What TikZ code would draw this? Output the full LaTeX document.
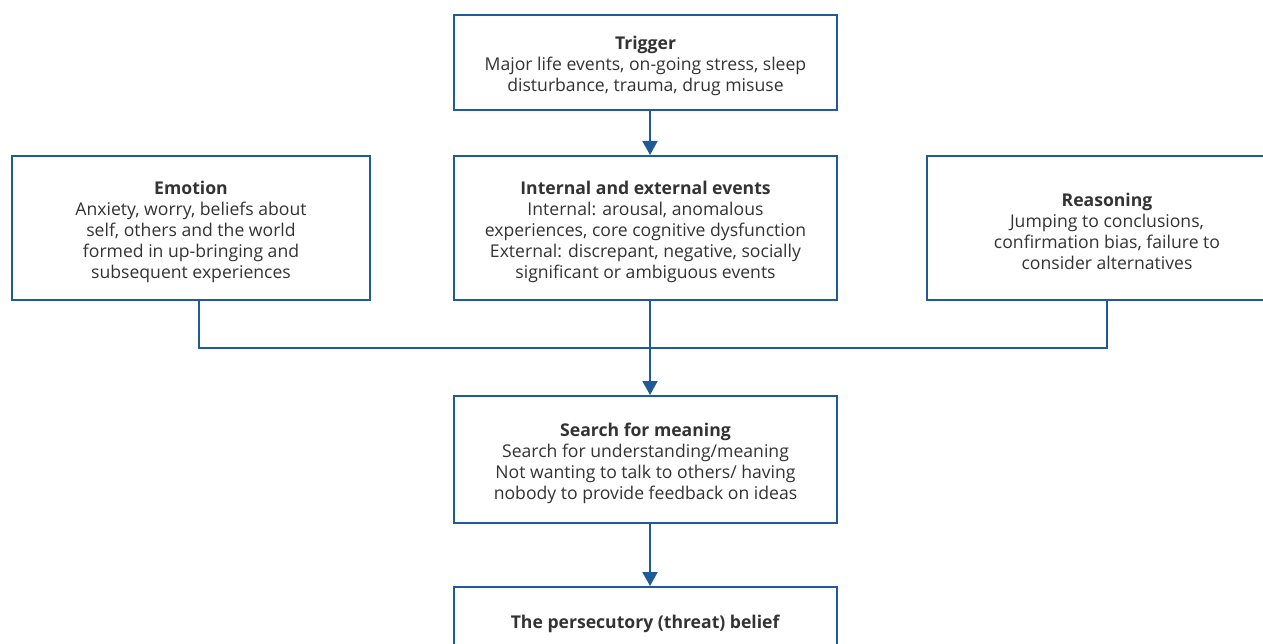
\documentclass[tikz,border=0pt]{standalone}
\usepackage{fontspec}
\setmainfont{Open Sans}
\usetikzlibrary{arrows.meta}
\definecolor{boxblue}{HTML}{1E5B98}
\definecolor{txt}{HTML}{333333}
\newcommand{\bxstrut}{\rule{0pt}{21pt}}
\begin{document}
\begin{tikzpicture}[x=1pt,y=-1pt,
  box/.style={draw=boxblue, line width=2pt, fill=white, inner sep=0pt, align=center,
    font=\fontsize{17.6}{21}\selectfont, text=txt},
  conn/.style={draw=boxblue, line width=2pt},
  arr/.style={conn, -{Triangle[width=15pt,length=14pt]}}]
\useasboundingbox (0,0) rectangle (1263,644);
\clip (0,0) rectangle (1263,644);
\fill[white] (0,0) rectangle (1263,644);
\coordinate (cx) at (650,0);
\coordinate (ex) at (199,0);
\coordinate (j) at (650,348);
\node[box, minimum width=383pt, minimum height=95pt] (trig) at (645.5,62.5)
  {\bxstrut\textbf{Trigger}\\Major life events, on-going stress, sleep\\disturbance, trauma, drug misuse};
\node[box, minimum width=358pt, minimum height=144pt] (emo) at (191,228)
  {\bxstrut\textbf{Emotion}\\Anxiety, worry, beliefs about\\self, others and the world\\formed in up-bringing and\\subsequent experiences};
\node[box, minimum width=383pt, minimum height=144pt] (int) at (645.5,228)
  {\bxstrut\textbf{Internal and external events}\\Internal: arousal, anomalous\\experiences, core cognitive dysfunction\\External: discrepant, negative, socially\\significant or ambiguous events};
\node[box, minimum width=360pt, minimum height=144pt] (rea) at (1107,228)
  {\bxstrut\textbf{Reasoning}\\Jumping to conclusions,\\confirmation bias, failure to\\consider alternatives};
\node[box, minimum width=383pt, minimum height=127pt] (sea) at (645.5,459.5)
  {\bxstrut\textbf{Search for meaning}\\Search for understanding/meaning\\Not wanting to talk to others/ having\\nobody to provide feedback on ideas};
\node[box, minimum width=383pt, minimum height=66pt] (per) at (645.5,620)
  {\bxstrut\textbf{The persecutory (threat) belief}};
\draw[arr] (trig.south -| cx) -- (int.north -| cx);
\draw[conn] (emo.south -| ex) |- (j);
\draw[conn] (rea.south) |- (j);
\draw[arr] (int.south -| j) -- (sea.north -| j);
\draw[arr] (sea.south -| j) -- (per.north -| j);
\end{tikzpicture}
\end{document}
